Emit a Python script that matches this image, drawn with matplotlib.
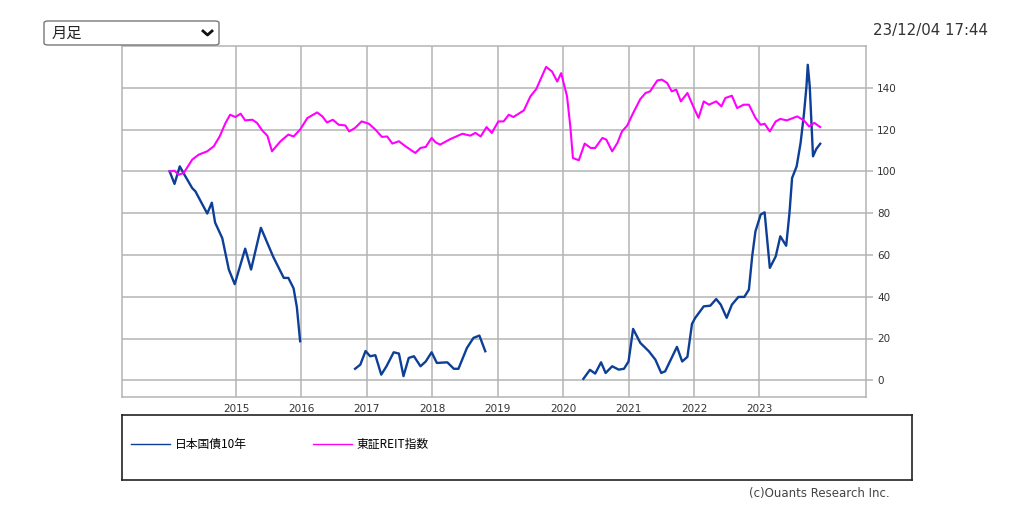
import numpy as np
import matplotlib
matplotlib.use('Agg')
import matplotlib.pyplot as plt
from matplotlib.patches import FancyBboxPatch
from matplotlib.lines import Line2D

plt.rcParams['font.family'] = ['DejaVu Sans', 'Noto Sans CJK JP']

# 日本国債10年 (indexed, gaps are NaN)
jgb_t = [2013.985, 2014.06, 2014.14, 2014.2, 2014.33, 2014.38, 2014.56, 2014.63, 2014.68, 2014.79,
         2014.89, 2014.98, 2015.14, 2015.23, 2015.38, 2015.57, 2015.73, 2015.8, 2015.88, 2015.93,
         2015.98, 2016.4,
         2016.82, 2016.9, 2016.98, 2017.05, 2017.13, 2017.22, 2017.3, 2017.41, 2017.49, 2017.56,
         2017.64, 2017.72, 2017.82, 2017.9, 2017.99, 2018.07, 2018.23, 2018.33, 2018.4, 2018.53,
         2018.63, 2018.72, 2018.81, 2019.5,
         2020.31, 2020.41, 2020.49, 2020.58, 2020.65, 2020.75, 2020.85, 2020.93, 2021.0, 2021.07,
         2021.18, 2021.31, 2021.41, 2021.5, 2021.56, 2021.74, 2021.82, 2021.9, 2021.97, 2022.02,
         2022.15, 2022.25, 2022.34, 2022.41, 2022.5, 2022.58, 2022.68, 2022.77, 2022.84, 2022.89,
         2022.94, 2023.02, 2023.08, 2023.16, 2023.25, 2023.32, 2023.41, 2023.46, 2023.5, 2023.57,
         2023.63, 2023.68, 2023.72, 2023.74, 2023.77, 2023.82, 2023.87, 2023.93]
jgb_v = [100, 94, 102.4, 99, 92, 90.4, 79.8, 85, 75.5, 68,
         53, 46, 63, 53, 73, 59, 49, 49, 44, 35,
         18.7, np.nan,
         5.5, 7.5, 14, 11.5, 12, 2.7, 6.7, 13.4, 12.8, 2,
         10.7, 11.5, 6.7, 9, 13.4, 8.3, 8.6, 5.5, 5.5, 15.5,
         20.3, 21.4, 13.9, np.nan,
         0.7, 5, 3.2, 8.6, 3.5, 6.7, 5.1, 5.5, 9, 24.6,
         17.9, 13.9, 9.9, 3.5, 4.3, 16, 9, 11.2, 27, 29.9,
         35.4, 35.7, 38.9, 36.2, 29.9, 36.2, 39.9, 39.9, 43.4, 59.3,
         71.3, 79.3, 80.4, 53.8, 59.3, 68.9, 64.4, 80, 96.8, 102.4,
         113.6, 127, 140.7, 151, 140.7, 107.2, 110.7, 113.2]

# 東証REIT指数 (indexed)
reit_t = [2013.985, 2014.06, 2014.12, 2014.2, 2014.33, 2014.43, 2014.56, 2014.66, 2014.75, 2014.84,
          2014.91, 2014.99, 2015.07, 2015.14, 2015.25, 2015.32, 2015.4, 2015.48, 2015.55, 2015.68,
          2015.8, 2015.88, 2015.98, 2016.09, 2016.24, 2016.32, 2016.39, 2016.48, 2016.57, 2016.67,
          2016.73, 2016.82, 2016.92, 2017.03, 2017.13, 2017.23, 2017.31, 2017.39, 2017.49, 2017.59,
          2017.74, 2017.82, 2017.9, 2017.99, 2018.05, 2018.12, 2018.28, 2018.46, 2018.58, 2018.66,
          2018.74, 2018.83, 2018.91, 2019.01, 2019.09, 2019.17, 2019.24, 2019.4, 2019.5, 2019.59,
          2019.68, 2019.74, 2019.83, 2019.91, 2019.97, 2020.06, 2020.11, 2020.15, 2020.24, 2020.33,
          2020.42, 2020.49, 2020.6, 2020.66, 2020.75, 2020.83, 2020.9, 2020.98, 2021.07, 2021.18,
          2021.26, 2021.33, 2021.44, 2021.51, 2021.59, 2021.66, 2021.73, 2021.8, 2021.9, 2022.0,
          2022.07, 2022.15, 2022.23, 2022.34, 2022.42, 2022.48, 2022.58, 2022.66, 2022.76, 2022.84,
          2022.94, 2023.02, 2023.08, 2023.16, 2023.25, 2023.32, 2023.42, 2023.58, 2023.68, 2023.76,
          2023.84, 2023.93]
reit_v = [100, 100.3, 98.4, 99.2, 105.6, 108, 109.6, 112, 116.7, 123.2,
          127.1, 126, 127.6, 124.4, 124.7, 123.2, 119.6, 117, 109.6, 114.4,
          117.6, 116.7, 120, 125.5, 128.2, 126.3, 123.4, 124.7, 122.3, 122,
          119.1, 120.8, 123.9, 122.8, 120, 116.5, 116.7, 113.3, 114.4, 112,
          108.8, 111.2, 111.7, 116, 113.9, 112.8, 115.5, 118, 117.1, 118.4,
          116.7, 121.2, 118.4, 123.9, 123.9, 127.1, 126, 129.2, 135.9, 139.4,
          145.8, 150, 147.8, 143, 147, 135.9, 121.5, 106.4, 105.3, 113.3,
          111.2, 111.2, 116, 115.2, 109.6, 113.6, 119.1, 121.9, 127.9, 134.6,
          137.5, 138.3, 143.5, 143.9, 142.3, 138.3, 139.1, 133.5, 137.5, 130.3,
          125.6, 133.5, 131.9, 133.5, 131.1, 135.1, 136.2, 130.3, 131.9, 131.9,
          125.6, 122.3, 122.8, 119.1, 123.9, 125.1, 124.4, 126.3, 124.4, 121.5,
          123.2, 121.2]

years = list(range(2015, 2024))
yticks = list(range(0, 141, 20))
labels = ['日本国債10年', '東証REIT指数']
colors = ['#0d3f96', '#ff00ff']
grid_c = '#b4b4b4'
jp = ['Noto Sans CJK JP', 'DejaVu Sans']

fig = plt.figure(figsize=(10.24, 5.2), dpi=100)
ax = fig.add_axes([122 / 1024, 123 / 520, 744 / 1024, 351 / 520])

ax.plot(jgb_t, jgb_v, color=colors[0], lw=1.7)
ax.plot(reit_t, reit_v, color=colors[1], lw=1.5)

ax.set_xlim(2013.257, 2024.63)
ax.set_ylim(-8, 160)
ax.set_xticks(years)
ax.set_xticklabels([str(y) for y in years], fontsize=7.5, color='#333333')
ax.set_yticks(yticks)
ax.set_yticklabels([str(v) for v in yticks], fontsize=7.5, color='#333333')
ax.yaxis.tick_right()
ax.tick_params(axis='y', length=5, color=grid_c, width=1.1, pad=3)
ax.tick_params(axis='x', length=0, pad=5)
ax.grid(True, color=grid_c, linewidth=1.1)
ax.set_axisbelow(True)
for s in ax.spines.values():
    s.set_color(grid_c)
    s.set_linewidth(1.1)

# legend box
lax = fig.add_axes([122 / 1024, 40 / 520, 790 / 1024, 65 / 520])
lax.set_xticks([])
lax.set_yticks([])
for s in lax.spines.values():
    s.set_color('#222222')
    s.set_linewidth(1.2)
handles = [Line2D([], [], color=colors[0], lw=1.0), Line2D([], [], color=colors[1], lw=1.0)]
lax.legend(handles, labels, loc='center left', ncol=2, frameon=False,
           prop={'family': jp, 'size': 8.5}, handlelength=3.3, handletextpad=0.4,
           columnspacing=5.6, borderaxespad=0.2, bbox_to_anchor=(0.003, 0.55))

# dropdown
box = FancyBboxPatch((44 / 1024, 475 / 520), 175 / 1024, 24 / 520,
                     boxstyle='round,pad=0,rounding_size=0.004', transform=fig.transFigure,
                     facecolor='white', edgecolor='#777777', lw=1.0)
fig.patches.append(box)
fig.text(52 / 1024, 487 / 520, '月足', family=jp, fontsize=11, va='center', ha='left', color='#222222')
fig.add_artist(Line2D([203 / 1024, 207.5 / 1024, 212 / 1024], [489 / 520, 485 / 520, 489 / 520],
                      transform=fig.transFigure, color='#111111', lw=2.0))

fig.text(988 / 1024, 489 / 520, '23/12/04 17:44', fontsize=10.8, ha='right', va='center', color='#333333')
fig.text(890 / 1024, 26 / 520, '(c)Ouants Research Inc.', fontsize=8.5, ha='right', va='center',
         color='#444444')

fig.savefig('out.png', dpi=100, facecolor='white')
